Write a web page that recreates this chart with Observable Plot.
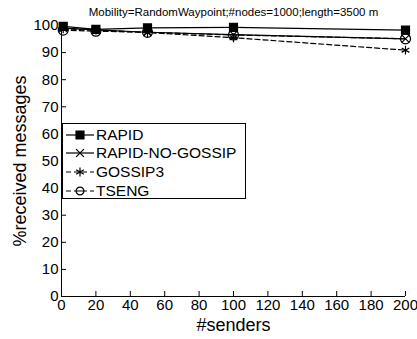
<!DOCTYPE html>
<html><head><meta charset="utf-8">
<script src="https://cdn.jsdelivr.net/npm/d3@7"></script>
<script src="https://cdn.jsdelivr.net/npm/@observablehq/plot@0.6"></script>
<style>
body{margin:0;background:#fff;font-family:"Liberation Sans",Arial,sans-serif;}
#wrap{position:relative;width:417px;height:339px;}
#legend{position:absolute;left:62px;top:123px;}
</style></head>
<body><div id="wrap"></div>
<script>
const title = "Mobility=RandomWaypoint;#nodes=1000;length=3500 m";
const xLabel = "#senders";
const yLabel = "%received messages";
const senders = [1, 20, 50, 100, 200];
const seriesNames = ["RAPID", "RAPID-NO-GOSSIP", "GOSSIP3", "TSENG"];
const rapid = [99.7, 98.6, 99.1, 99.3, 98.3];
const rapidNoGossip = [99.0, 98.4, 97.5, 96.6, 95.1];
const gossip3 = [98.8, 98.3, 97.4, 95.5, 90.9];
const tseng = [98.3, 97.9, 97.5, 96.5, 95.1];
const xTicks = [0, 20, 40, 60, 80, 100, 120, 140, 160, 180, 200];
const yTicks = [0, 10, 20, 30, 40, 50, 60, 70, 80, 90, 100];

const symbols = ["square", "times", "asterisk", "circle"];
const dashes = [null, null, "5,3", "5,3"];
const fills = ["black", "none", "none", "none"];
const radii = [4.5, 3.6, 4.2, 5];
const values = [rapid, rapidNoGossip, gossip3, tseng];

const data = [];
seriesNames.forEach((s, i) => senders.forEach((x, j) => data.push({series: s, idx: i, x, y: values[i][j]})));

const W = 417, H = 339, mL = 61, mR = 12, mT = 25, mB = 43;
const frameW = W - mL - mR, frameH = H - mT - mB;
const font = '"Liberation Sans", Arial, sans-serif';

const marks = [
  Plot.ruleX([0], {stroke: "black"}),
  Plot.ruleY([0], {stroke: "black"}),
  Plot.tickX(xTicks, {x: d => d, insetTop: frameH - 5, stroke: "black"}),
  Plot.tickY(yTicks, {y: d => d, insetRight: frameW - 5, stroke: "black"}),
  Plot.axisX({ticks: xTicks, tickSize: 0, tickPadding: 3, fontSize: 15, label: null, tickFormat: d => d}),
  Plot.axisY({ticks: yTicks, tickSize: 0, tickPadding: 3, fontSize: 15, label: null, tickFormat: d => d}),
];
seriesNames.forEach((s, i) => {
  const d = data.filter(e => e.idx === i);
  marks.push(Plot.line(d, {x: "x", y: "y", stroke: "black", strokeWidth: 1.2, strokeDasharray: dashes[i]}));
  marks.push(Plot.dot(d, {x: "x", y: "y", symbol: () => symbols[i], r: radii[i],
    fill: fills[i], stroke: "black", strokeWidth: 1.2}));
});
marks.push(Plot.text([title], {frameAnchor: "top", lineAnchor: "middle", textAnchor: "middle", dy: -13, fontSize: 11.5, fill: "black"}));
marks.push(Plot.text([xLabel], {frameAnchor: "bottom", lineAnchor: "middle", textAnchor: "middle", dy: 29, fontSize: 18, fill: "black"}));
marks.push(Plot.text([yLabel], {frameAnchor: "left", lineAnchor: "middle", textAnchor: "middle", dx: -41, rotate: -90, fontSize: 18, fill: "black"}));

const chart = Plot.plot({
  width: W, height: H,
  marginLeft: mL, marginRight: mR, marginTop: mT, marginBottom: mB,
  x: {domain: [0, 200]},
  y: {domain: [0, 100]},
  style: {fontFamily: font, background: "white", color: "black", overflow: "visible"},
  marks
});
document.getElementById("wrap").appendChild(chart);

// legend overlay
const lw = 183, lh = 75;
const svg = d3.select("#wrap").append("svg").attr("id", "legend")
  .attr("width", lw + 2).attr("height", lh + 2);
svg.append("rect").attr("x", 0.5).attr("y", 0.5).attr("width", lw).attr("height", lh)
  .attr("fill", "white").attr("stroke", "black");
const symMap = {square: d3.symbolSquare, times: d3.symbolTimes, asterisk: d3.symbolAsterisk, circle: d3.symbolCircle};
const rowY = [12, 30, 49, 68];
seriesNames.forEach((s, i) => {
  const g = svg.append("g").attr("transform", `translate(0,${rowY[i]})`);
  g.append("line").attr("x1", 4).attr("x2", 32).attr("stroke", "black").attr("stroke-width", 1.2)
    .attr("stroke-dasharray", dashes[i]);
  g.append("path").attr("transform", "translate(18,0)")
    .attr("d", d3.symbol(symMap[symbols[i]], Math.PI * radii[i] * radii[i] * (i === 3 ? 0.6 : 1))())
    .attr("fill", fills[i] === "none" ? "white" : "black").attr("stroke", "black").attr("stroke-width", 1.2);
  if (i === 3) g.append("line").attr("x1", 14).attr("x2", 22).attr("stroke", "black");
  g.append("text").attr("x", 34).attr("dy", "0.35em").attr("font-size", 15.5)
    .attr("font-family", font).text(s);
});
</script></body></html>
